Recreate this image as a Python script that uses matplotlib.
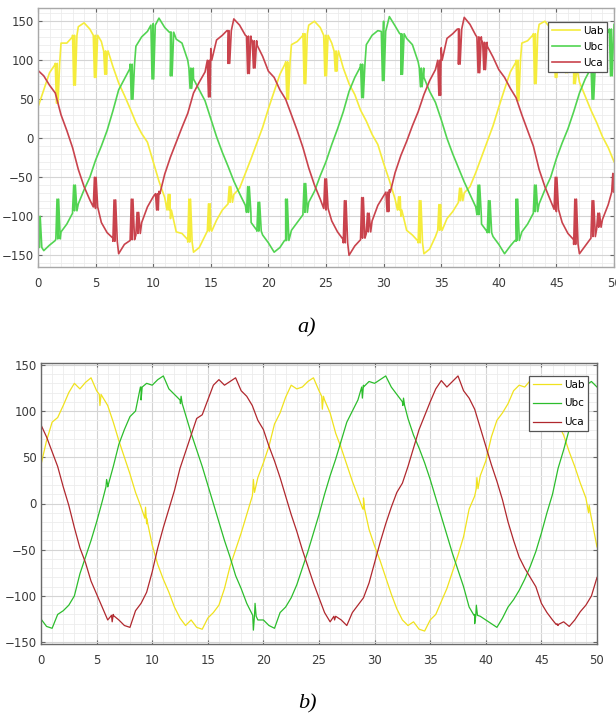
import numpy as np
import matplotlib
matplotlib.use("Agg")
import matplotlib.pyplot as plt
from matplotlib.ticker import MultipleLocator, AutoMinorLocator

# ---------------- data ----------------
series_names = ["Uab", "Ubc", "Uca"]
x_ticks = [0, 5, 10, 15, 20, 25, 30, 35, 40, 45, 50]

# time grid of the sampled values (ms), step 0.5
t_grid = np.linspace(0, 50, 101)

# ---- panel a) base values
a_uab = [40, 62, 84, 95, 122, 122, 130, 143, 148, 140, 131, 124, 106, 92, 71, 55, 38, 20, 6, -5,
         -30, -55, -76, -103, -120, -122, -130, -146, -140, -125, -115, -105, -92, -84, -72, -64, -45, -26, -6, 14,
         38, 60, 82, 97, 120, 124, 132, 145, 150, 142, 130, 122, 104, 90, 70, 56, 36, 22, 5, -8,
         -32, -54, -78, -100, -118, -124, -132, -148, -142, -126, -113, -103, -94, -82, -70, -62, -44, -24, -4, 16,
         40, 63, 85, 98, 122, 125, 133, 146, 150, 141, 131, 123, 105, 90, 72, 54, 36, 20, 2, -12, -30]
a_ubc = [-140, -144, -137, -131, -120, -110, -96, -84, -66, -50, -28, -10, 10, 35, 62, 76, 90, 118, 130, 137,
         147, 154, 142, 136, 127, 122, 100, 76, 62, 48, 25, 2, -18, -36, -55, -71, -86, -108, -118, -124,
         -134, -146, -140, -131, -118, -108, -98, -82, -68, -48, -30, -8, 12, 34, 60, 78, 92, 120, 132, 138,
         150, 156, 144, 134, 128, 120, 98, 78, 60, 46, 24, 0, -20, -38, -56, -72, -88, -110, -120, -126,
         -136, -148, -138, -132, -120, -110, -96, -84, -66, -50, -26, -6, 12, 34, 58, 76, 90, 116, 130, 136, 146]
a_uca = [87, 80, 68, 58, 30, 10, -12, -40, -62, -79, -90, -108, -121, -128, -148, -136, -131, -124, -108, -88,
         -75, -68, -46, -24, -5, 14, 32, 58, 72, 85, 115, 126, 132, 138, 153, 145, 132, 127, 120, 105,
         86, 78, 62, 50, 30, 10, -12, -38, -60, -78, -92, -106, -120, -130, -150, -138, -130, -122, -106, -86,
         -74, -66, -44, -22, -4, 16, 34, 56, 74, 88, 116, 128, 134, 140, 155, 146, 132, 126, 118, 104,
         88, 78, 64, 52, 30, 10, -10, -40, -62, -80, -94, -108, -122, -130, -148, -138, -128, -116, -104, -85, -65]

# ---- panel a) switching spike bursts: time (ms), tip value, value at the foot of the burst
a_uab_spk_t = [1.6, 3.1, 4.9, 5.8, 11.3, 13.1, 14.8, 16.6, 21.6, 23.1, 24.9, 25.8,
               31.3, 33.1, 34.8, 36.6, 41.6, 43.1, 44.9, 45.8, 46.5]
a_uab_spk_v = [45, 68, 78, 82, -72, -78, -84, -62, 50, 70, 80, 86,
               -75, -80, -85, -64, 48, 70, 78, 84, 70]
a_uab_spk_b = [96, 132, 132, 112, -92, -133, -119, -82, 98, 134, 132, 112,
               -92, -134, -118, -80, 100, 134, 133, 112, 90]
a_ubc_spk_t = [0.05, 1.65, 3.1, 8.1, 9.9, 11.5, 13.2, 18.2, 19.1, 21.5, 23.1,
               28.1, 29.9, 31.5, 33.2, 38.2, 39.1, 41.5, 43.1, 48.1, 49.7]
a_ubc_spk_v = [-100, -78, -60, 50, 76, 80, 64, -62, -82, -78, -58,
               52, 74, 82, 66, -60, -80, -78, -60, 50, 80]
a_ubc_spk_b = [-140, -129, -93, 95, 145, 136, 90, -95, -119, -131, -95,
               95, 137, 134, 90, -98, -121, -131, -94, 95, 140]
a_uca_spk_t = [4.9, 6.6, 8.1, 8.6, 10.3, 14.8, 16.5, 18.2, 18.7,
               24.9, 26.6, 28.1, 28.6, 30.3, 34.8, 36.5, 38.2, 38.7,
               44.9, 46.6, 48.1, 48.6, 49.9]
a_uca_spk_v = [-50, -79, -78, -95, -92, 53, 96, 83, 90,
               -52, -80, -76, -96, -94, 55, 95, 84, 88,
               -50, -78, -80, -96, -45]
a_uca_spk_b = [-88, -132, -130, -122, -71, 100, 138, 131, 125,
               -90, -134, -128, -120, -69, 100, 140, 130, 123,
               -91, -136, -126, -114, -69]

# ---- panel b) values
b_uab = [42, 68, 88, 93, 106, 120, 130, 124, 131, 136, 122, 116, 106, 88, 68, 50, 32, 12, -4, -22,
         -45, -66, -82, -96, -112, -124, -132, -126, -134, -136, -124, -118, -110, -92, -68, -50, -32, -12, 8, 28,
         44, 62, 86, 98, 115, 128, 124, 126, 132, 136, 122, 112, 98, 76, 60, 42, 24, 8, -6, -28,
         -46, -62, -80, -98, -114, -126, -132, -128, -136, -138, -126, -120, -106, -92, -74, -56, -36, -6, 8, 30,
         46, 72, 90, 98, 108, 122, 128, 126, 133, 136, 124, 112, 100, 86, 74, 56, 40, 22, 6, -16, -47]
b_ubc = [-125, -133, -135, -120, -116, -110, -100, -76, -58, -40, -20, 2, 20, 40, 64, 80, 94, 100, 126, 130,
         128, 134, 138, 124, 118, 112, 96, 76, 58, 40, 20, 0, -20, -40, -58, -78, -92, -108, -120, -126,
         -126, -132, -135, -118, -112, -102, -88, -70, -52, -32, -12, 10, 30, 48, 68, 88, 100, 112, 128, 132,
         130, 134, 138, 126, 118, 110, 92, 74, 60, 44, 26, 6, -14, -34, -54, -72, -90, -112, -120, -122,
         -126, -130, -134, -124, -112, -104, -94, -82, -68, -52, -32, -10, 10, 38, 58, 80, 100, 114, 128, 132, 126]
b_uca = [85, 72, 56, 40, 18, -2, -26, -48, -64, -84, -98, -112, -126, -120, -126, -132, -134, -116, -108, -96,
         -74, -48, -26, -6, 14, 38, 56, 74, 92, 96, 112, 128, 134, 128, 132, 136, 122, 116, 106, 90,
         80, 62, 46, 28, 8, -12, -30, -50, -68, -86, -102, -118, -128, -122, -126, -132, -118, -110, -102, -86,
         -64, -42, -22, -4, 12, 22, 40, 60, 80, 95, 110, 124, 133, 126, 132, 138, 122, 114, 102, 82,
         62, 42, 24, 4, -20, -40, -58, -70, -80, -90, -108, -118, -126, -132, -128, -133, -126, -117, -110, -100, -80]

# ---- panel b) small spikes: time, tip value, foot value
b_uab_spk_t = [5.3, 9.4, 19.1, 25.3, 29.0, 39.2, 45.2, 49.3]
b_uab_spk_v = [106, -4, 26, 102, 6, 28, 108, -2]
b_uab_spk_b = [118, -16, 12, 116, -6, 16, 120, -10]
b_ubc_spk_t = [5.9, 9.0, 12.6, 19.1, 19.25, 28.9, 32.6, 39.0, 39.15]
b_ubc_spk_v = [26, 112, 116, -137, -108, 114, 114, -130, -110]
b_ubc_spk_b = [18, 126, 108, -121, -122, 126, 106, -121, -121]
b_uca_spk_t = [6.4, 26.4, 46.4]
b_uca_spk_v = [-128, -126, -130]
b_uca_spk_b = [-121, -122, -131]

# ---------------- styling ----------------
plt.rcParams['font.family'] = ['Liberation Sans Narrow', 'DejaVu Sans']

col_a = ["#f5ec3c", "#52d452", "#c9434d"]
col_b = ["#f0e21e", "#2cbd2c", "#b0282e"]

fig = plt.figure(figsize=(6.16, 7.19), dpi=100)
fig.patch.set_facecolor("white")

W, H = 616.0, 719.0
def ax_rect(l, t, r, b):
    return [l / W, 1 - b / H, (r - l) / W, (b - t) / H]

ax1 = fig.add_axes(ax_rect(38, 8, 614, 267))
ax2 = fig.add_axes(ax_rect(41, 363, 597, 644))


def merged(tb, vb, ts, vs, vf, burst):
    """base samples plus spike bursts (foot, tip, foot, tip, foot)."""
    ts = np.asarray(ts, float)
    vs = np.asarray(vs, float)
    vf = np.asarray(vf, float)
    tt = [np.asarray(tb, float)]
    vv = [np.asarray(vb, float)]
    if burst:
        offs = [(-0.1, vf), (0.0, vs), (0.07, vf), (0.14, vs), (0.28, vf)]
    else:
        offs = [(-0.06, vf), (0.0, vs), (0.1, vf)]
    for d, vals in offs:
        tt.append(ts + d)
        vv.append(vals)
    tt = np.concatenate(tt)
    vv = np.concatenate(vv)
    o = np.argsort(tt, kind="stable")
    return tt[o], vv[o]


def style_axes(ax, ylim, frame_col):
    ax.set_xlim(0, 50)
    ax.set_ylim(*ylim)
    ax.set_xticks(x_ticks)
    ax.yaxis.set_major_locator(MultipleLocator(50))
    ax.xaxis.set_minor_locator(AutoMinorLocator(5))
    ax.yaxis.set_minor_locator(AutoMinorLocator(5))
    ax.grid(True, which="major", color="#d4d4d4", lw=0.8)
    ax.grid(True, which="minor", color="#ececec", lw=0.6)
    ax.set_axisbelow(True)
    ax.tick_params(which="both", direction="in", length=3, color="#666666",
                   labelsize=8.5, labelcolor="#3a3a3a", top=True, right=True)
    ax.tick_params(which="minor", length=0)
    ax.tick_params(axis="x", pad=7)
    ax.tick_params(axis="y", pad=3)
    for s in ax.spines.values():
        s.set_color(frame_col)
        s.set_linewidth(1.0)


series_a = [(a_uab, a_uab_spk_t, a_uab_spk_v, a_uab_spk_b),
            (a_ubc, a_ubc_spk_t, a_ubc_spk_v, a_ubc_spk_b),
            (a_uca, a_uca_spk_t, a_uca_spk_v, a_uca_spk_b)]
for (vb, ts, vs, vf), c, n in zip(series_a, col_a, series_names):
    tt, vv = merged(t_grid, vb, ts, vs, vf, True)
    ax1.plot(tt, vv, color=c, lw=1.2, label=n)

series_b = [(b_uab, b_uab_spk_t, b_uab_spk_v, b_uab_spk_b),
            (b_ubc, b_ubc_spk_t, b_ubc_spk_v, b_ubc_spk_b),
            (b_uca, b_uca_spk_t, b_uca_spk_v, b_uca_spk_b)]
for (vb, ts, vs, vf), c, n in zip(series_b, col_b, series_names):
    tt, vv = merged(t_grid, vb, ts, vs, vf, False)
    ax2.plot(tt, vv, color=c, lw=0.9, label=n)

style_axes(ax1, (-165, 167), "#a8a8a8")
style_axes(ax2, (-152, 152), "#6a6a6a")

for ax, anchor, lsp in ((ax1, (1 - 7 / 576, 1 - 14 / 259), 0.6),
                        (ax2, (1 - 9 / 556, 1 - 13 / 281), 0.85)):
    leg = ax.legend(loc="upper right", bbox_to_anchor=anchor, fontsize=7.5,
                    frameon=True, fancybox=False, framealpha=1, edgecolor="#555555",
                    handlelength=2.7, handletextpad=0.3, borderpad=0.35,
                    labelspacing=lsp, markerfirst=True, borderaxespad=0)
    leg.get_frame().set_linewidth(0.9)

fig.text(307 / W, 1 - 328 / H, "a)", family="Liberation Serif", style="italic",
         fontsize=16, ha="center", va="center")
fig.text(307 / W, 1 - 704 / H, "b)", family="Liberation Serif", style="italic",
         fontsize=16, ha="center", va="center")

fig.savefig("out.png", dpi=100, facecolor="white")
